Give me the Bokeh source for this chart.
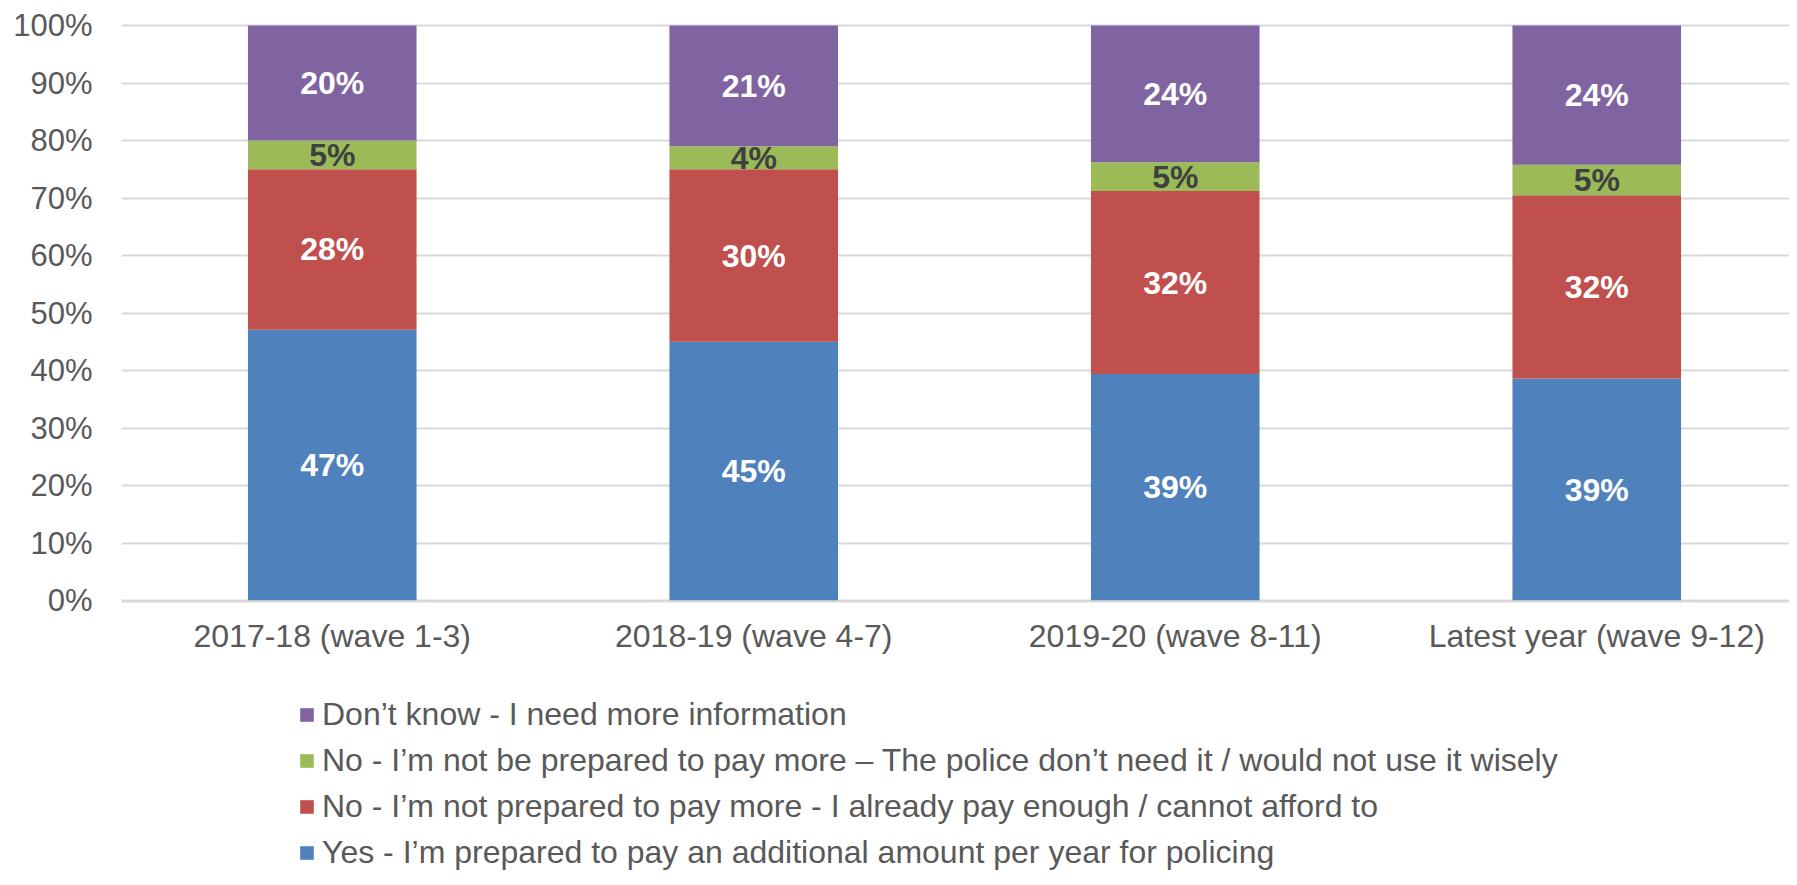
from bokeh.plotting import figure
from bokeh.layouts import column
from bokeh.models import ColumnDataSource, Legend, LegendItem, Range1d, FixedTicker
from bokeh.core.properties import value
from bokeh.embed import file_html
from bokeh.resources import INLINE

# ---------------- data ----------------
categories = ["2017-18 (wave 1-3)", "2018-19 (wave 4-7)", "2019-20 (wave 8-11)", "Latest year (wave 9-12)"]
yes_pay = [47.1, 45.0, 39.4, 38.6]
no_afford = [27.9, 30.0, 31.8, 31.9]
no_wisely = [5.0, 4.0, 5.0, 5.3]
dont_know = [20.0, 21.0, 23.8, 24.2]
series_names = [
    "Yes - I\u2019m prepared to pay an additional amount per year for policing",
    "No - I\u2019m not prepared to pay more - I already pay enough / cannot afford to",
    "No - I\u2019m not be prepared to pay more \u2013 The police don\u2019t need it / would not use it wisely",
    "Don\u2019t know - I need more information",
]
y_ticks = [0, 10, 20, 30, 40, 50, 60, 70, 80, 90, 100]
y_tick_labels = ["0%", "10%", "20%", "30%", "40%", "50%", "60%", "70%", "80%", "90%", "100%"]

# ---------------- style / layout ----------------
colors = ["#4F81BD", "#C0504D", "#9BBB59", "#8064A2"]
label_colors = ["#FFFFFF", "#FFFFFF", "#404040", "#FFFFFF"]
FONT = "Liberation Sans"
W = 1789
H1, H2 = 680, 197
LEFT, TOP = 121, 23
FRAME_BOTTOM = 601   # canvas y of frame bottom edge
ppu = 5.75           # pixels per percentage point
cat_px = 421.5       # pixels per category

BOTTOM = H1 - FRAME_BOTTOM
frame_w = W - LEFT
frame_h = H1 - TOP - BOTTOM
y_end = 100 + 2 / ppu
y_start = y_end - frame_h / ppu
x_start = -0.5
x_end = x_start + frame_w / cat_px

xs = list(range(len(categories)))
keys = ["yes", "afford", "wisely", "dk"]
series = [yes_pay, no_afford, no_wisely, dont_know]
data = {"x": xs}
for k, s in zip(keys, series):
    data[k] = s
source = ColumnDataSource(data)

p = figure(width=W, height=H1, output_backend="svg", toolbar_location=None,
           x_range=Range1d(x_start, x_end), y_range=Range1d(y_start, y_end),
           min_border_left=LEFT, min_border_right=0, min_border_top=TOP,
           min_border_bottom=BOTTOM, outline_line_color=None)

p.vbar_stack(keys, x="x", width=0.4, color=colors, line_color=None, source=source)

# data labels
lx, ly, lt, lc = [], [], [], []
for i in xs:
    base = 0.0
    for s, c in zip(series, label_colors):
        v = s[i]
        lx.append(i)
        ly.append(base + v / 2)
        lt.append(f"{round(v):d}%")
        lc.append(c)
        base += v
lsrc = ColumnDataSource(dict(x=lx, y=ly, t=lt, c=lc))
p.text(x="x", y="y", text="t", text_color="c", source=lsrc,
       text_font=value(FONT), text_font_size="32px", text_font_style="bold",
       text_align="center", text_baseline="middle")

# axes
p.xaxis.ticker = FixedTicker(ticks=xs)
p.xaxis.major_label_overrides = {i: c for i, c in zip(xs, categories)}
p.xaxis.major_label_text_font = FONT
p.xaxis.major_label_text_font_size = "32px"
p.xaxis.major_label_text_color = "#595959"
p.xaxis.major_tick_in = 0
p.xaxis.major_tick_out = 0
p.xaxis.minor_tick_line_color = None
p.xaxis.axis_line_color = "#D9D9D9"
p.xaxis.axis_line_width = 2
p.xaxis.major_label_standoff = 16

p.yaxis.ticker = FixedTicker(ticks=y_ticks)
p.yaxis.major_label_overrides = {t: l for t, l in zip(y_ticks, y_tick_labels)}
p.yaxis.major_label_text_font = FONT
p.yaxis.major_label_text_font_size = "31px"
p.yaxis.major_label_text_color = "#595959"
p.yaxis.major_tick_in = 0
p.yaxis.major_tick_out = 0
p.yaxis.minor_tick_line_color = None
p.yaxis.axis_line_color = None
p.yaxis.major_label_standoff = 29

p.xgrid.grid_line_color = None
p.ygrid.grid_line_color = "#D9D9D9"
p.ygrid.grid_line_width = 2

# ---------------- legend panel ----------------
p2 = figure(width=W, height=H2, output_backend="svg", toolbar_location=None,
            x_range=Range1d(0, 1), y_range=Range1d(0, 1),
            x_axis_location=None, y_axis_location=None,
            min_border_left=0, min_border_right=0, min_border_top=0, min_border_bottom=0,
            outline_line_color=None)
p2.xgrid.grid_line_color = None
p2.ygrid.grid_line_color = None
# off-screen swatch renderers, only used to draw the legend squares
swatches = [p2.vbar(x=[-5], top=[-5], bottom=[-6], width=0.1, color=c, line_color=None)
            for c in colors]
items = [LegendItem(label=n, renderers=[r], index=0) for n, r in zip(series_names, swatches)][::-1]
legend = Legend(items=items, location=(177, 2), orientation="vertical",
                label_text_font=FONT, label_text_font_size="32px", label_text_color="#595959",
                glyph_width=17, glyph_height=17, label_standoff=7, label_height=46,
                spacing=0, padding=0, margin=0, border_line_color=None,
                background_fill_alpha=0)
p2.add_layout(legend, "center")

open("out.html", "w").write(file_html(column(p, p2, spacing=0), INLINE))
